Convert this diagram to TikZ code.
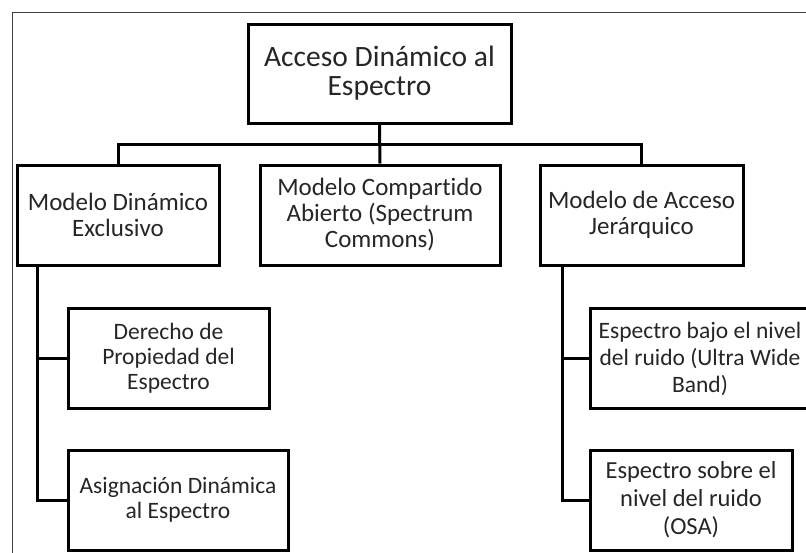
\documentclass[tikz,border=0pt]{standalone}
\usepackage{fontspec}
\setmainfont{Carlito}[Ligatures={NoCommon,NoRare}]
\begin{document}
\begin{tikzpicture}[x=1pt,y=-1pt,
  box/.style={draw=black,line width=3pt,align=center,inner sep=1pt,text=black!85},
  topbox/.style={box,minimum width=263pt,minimum height=99pt,font=\fontsize{29.5}{29}\selectfont},
  midbox/.style={box,minimum height=100pt,font=\fontsize{25}{26}\selectfont},
  subbox/.style={box,minimum height=100pt,font=\fontsize{23.5}{25}\selectfont},
  conn/.style={line width=3pt,draw=black}]
\clip (0,0) rectangle (806,552);
\useasboundingbox (0,0) rectangle (806,552);
\fill[white] (0,0) rectangle (806,552);
\draw[line width=1pt,black!75] (12,560) -- (12,12) -- (815,12);

\node[topbox] (top) at (379.5,73.5) {Acceso Dinámico al\\Espectro};
\node[midbox,minimum width=202pt] (left) at (118,215) {Modelo Dinámico\\Exclusivo};
\node[midbox,minimum width=240pt] (mid) at (380,215) {Modelo Compartido\\Abierto (Spectrum\\Commons)};
\node[midbox,minimum width=203pt] (right) at (641.5,215) {Modelo de Acceso\\Jerárquico};

\node[subbox,minimum width=201pt] (der) at (168.5,358.5) {Derecho de\\Propiedad del\\Espectro};
\node[subbox,minimum width=220pt] (asig) at (178,500) {Asignación Dinámica\\al Espectro};
\node[subbox,minimum width=220pt,font=\fontsize{23.5}{27}\selectfont] (bajo) at (700,358.5) {Espectro bajo el nivel\\del ruido (Ultra Wide\\Band)};
\node[subbox,minimum width=202pt,font=\fontsize{24.5}{28}\selectfont] (sobre) at (691,500) {Espectro sobre el\\nivel del ruido\\(OSA)};

\coordinate (bar) at (380,144);
\coordinate (lsp) at (37,502);
\coordinate (rsp) at (562,502);

\draw[conn] (top.south) -- (mid.north);
\draw[conn] (left.north) |- (bar) -| (right.north);
\draw[conn] (left.south -| lsp) |- (asig.west);
\draw[conn] (der.west -| lsp) -- (der.west);
\draw[conn] (right.south -| rsp) |- (sobre.west);
\draw[conn] (bajo.west -| rsp) -- (bajo.west);
\end{tikzpicture}
\end{document}
